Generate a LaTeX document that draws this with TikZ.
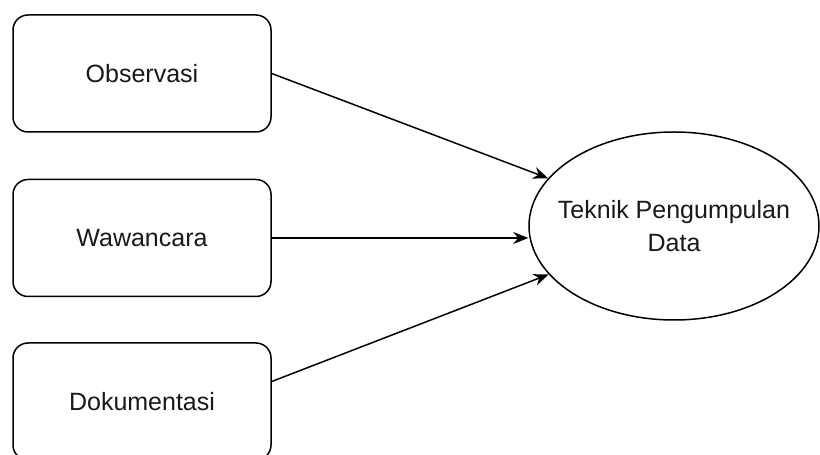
\documentclass[tikz,border=0pt]{standalone}
\usepackage{fontspec}
\setmainfont{Liberation Sans}
\usetikzlibrary{shapes.geometric,arrows.meta}

\begin{document}
\begin{tikzpicture}[x=1pt,y=1pt,
		txt/.style={font=\fontsize{25}{33}\selectfont,text=black!90},
		box/.style={txt,draw,line width=1.5pt,rounded corners=15pt,minimum width=258pt,minimum height=117pt,inner sep=0pt},
		oval/.style={txt,draw,ellipse,line width=1.5pt,minimum width=290pt,minimum height=188pt,inner xsep=-18pt,inner ysep=0pt,align=center},
		arr/.style={line width=1.5pt,-{Stealth[length=15pt,width=12pt]}}]
				\useasboundingbox (0,0) rectangle (820,455);
				\node[box] (obs) at (142,381.5) {Observasi};
				\node[box] (waw) at (142,217) {Wawancara};
				\node[box] (dok) at (142,53.5) {Dokumentasi};
				\node[oval] (tek) at (674,229) {Teknik Pengumpulan\\Data};
				\draw[arr] (obs.east) -- (tek);
				\draw[arr] (waw.east) -- (waw.east -| tek.west);
				\draw[arr] ([yshift=20pt]dok.east) -- (tek);
			\end{tikzpicture}
\end{document}
